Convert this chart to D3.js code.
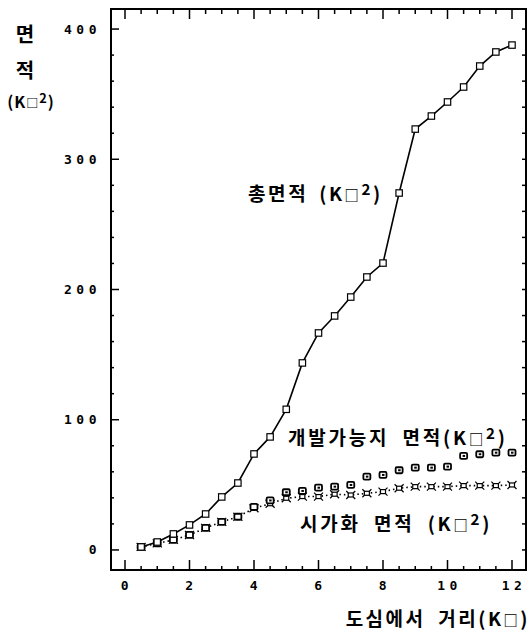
<!DOCTYPE html>
<html><head><meta charset="utf-8">
<script src="https://cdn.jsdelivr.net/npm/d3@7"></script>
<style>
html,body{margin:0;padding:0;background:#fff;}
svg{display:block;}
</style></head>
<body>
<svg id="c" width="530" height="632"></svg>
<script>
// ---- data ----
const distance = [0.5,1,1.5,2,2.5,3,3.5,4,4.5,5,5.5,6,6.5,7,7.5,8,8.5,9,9.5,10,10.5,11,11.5,12];
const totalArea = [2.3,6.1,12.3,19.2,27.6,40.7,51.4,73.7,86.8,108,143.6,166.6,179.7,194.2,209.6,220.3,274.1,323.2,333.2,344,355.5,371.6,382.4,387.7];
const developableArea = [2.3,5.0,7.7,11.5,16.9,21.5,25.5,33.0,38.0,44.3,45.3,47.8,48.6,49.9,56.3,57.6,61.2,63.2,63.2,64.0,72.2,73.5,74.7,74.7];
const urbanArea = [2.3,5.0,7.7,11.5,16.9,21.5,25.5,32.0,35.5,39.7,41.0,41.0,42.8,42.2,43.5,44.8,47.4,48.6,48.6,48.6,49.4,49.4,49.4,49.9];
const xTickLabels = [0,2,4,6,8,10,12];
const yTickLabels = [0,100,200,300,400];
const labelTotal = "총면적 ";
const labelDev = "개발가능지 면적";
const labelUrban = "시가화 면적 ";
const xTitle = "도심에서 거리";
const yTitleChars = ["면","적"];

// ---- layout ----
const L = 111, R = 526, T = 9, B = 570;
const x = d3.scaleLinear().domain([-0.434, 12.434]).range([L, R]);
const y = d3.scaleLinear().domain([-15.4, 415.4]).range([B, T]);
const svg = d3.select("#c");
const KR = "'Noto Sans CJK KR', 'Noto Sans', sans-serif";
const NUM = "'DejaVu Sans Mono', monospace";

// frame
svg.append("rect").attr("x", L).attr("y", T).attr("width", R - L).attr("height", B - T)
  .attr("fill", "none").attr("stroke", "#000").attr("stroke-width", 2);

// x ticks (every 0.5, major every 2)
const xt = d3.range(0, 12.01, 0.5);
const tickG = svg.append("g").attr("stroke", "#000").attr("stroke-width", 1.5);
xt.forEach(v => {
  const major = Math.abs(v % 2) < 1e-6;
  const len = major ? 10 : 4;
  tickG.append("line").attr("x1", x(v)).attr("x2", x(v)).attr("y1", B).attr("y2", B - len);
  tickG.append("line").attr("x1", x(v)).attr("x2", x(v)).attr("y1", T).attr("y2", T + (major ? 10 : 5));
});
// y ticks (every 20, major every 100)
const yt = d3.range(0, 401, 20);
yt.forEach(v => {
  const major = v % 100 === 0;
  tickG.append("line").attr("x1", L).attr("x2", L + (major ? 8 : 3)).attr("y1", y(v)).attr("y2", y(v));
  tickG.append("line").attr("x1", R).attr("x2", R - 4).attr("y1", y(v)).attr("y2", y(v));
});

// tick labels
svg.append("g").selectAll("text").data(xTickLabels).join("text")
  .attr("x", d => x(d) + 2).attr("y", 590)
  .attr("text-anchor", "middle")
  .attr("font-family", NUM).attr("font-weight", "bold").attr("font-size", 13)
  .attr("letter-spacing", 4.5)
  .text(d => d);
svg.append("g").selectAll("text").data(yTickLabels).join("text")
  .attr("x", 101).attr("y", d => y(d) + 4.5)
  .attr("text-anchor", "end")
  .attr("font-family", NUM).attr("font-weight", "bold").attr("font-size", 13)
  .attr("letter-spacing", 4.5)
  .text(d => d);

// lines
const lineTotal = d3.line().x((d, i) => x(distance[i])).y(d => y(d));
svg.append("path").datum(totalArea).attr("d", lineTotal)
  .attr("fill", "none").attr("stroke", "#000").attr("stroke-width", 1.6);
svg.append("path").datum(urbanArea).attr("d", lineTotal)
  .attr("fill", "none").attr("stroke", "#000").attr("stroke-width", 1.6)
  .attr("stroke-dasharray", "1.5,3");

// markers: urban (x-like)
const ug = svg.append("g");
urbanArea.forEach((v, i) => {
  const cx = x(distance[i]), cy = y(v);
  ug.append("rect").attr("x", cx - 2.5).attr("y", cy - 2).attr("width", 5).attr("height", 4)
    .attr("fill", "#fff").attr("stroke", "#000").attr("stroke-width", 1.2);
  ug.append("path").attr("d", `M${cx-4.5},${cy-4}L${cx-2.5},${cy-2}M${cx+4.5},${cy-4}L${cx+2.5},${cy-2}M${cx-4.5},${cy+4}L${cx-2.5},${cy+2}M${cx+4.5},${cy+4}L${cx+2.5},${cy+2}`)
    .attr("stroke", "#000").attr("stroke-width", 1.2);
});
// markers: developable (bold rounded square)
const dg = svg.append("g");
developableArea.forEach((v, i) => {
  const cx = x(distance[i]), cy = y(v);
  dg.append("rect").attr("x", cx - 3.5).attr("y", cy - 3).attr("width", 7).attr("height", 6).attr("rx", 1.2)
    .attr("fill", "#fff").attr("stroke", "#000").attr("stroke-width", 1.8);
  if (distance[i] >= 4.5) dg.append("rect").attr("x", cx - 1).attr("y", cy - 1).attr("width", 2.5).attr("height", 2)
    .attr("fill", "#000");
});
// markers: total (open square)
const tg = svg.append("g");
totalArea.forEach((v, i) => {
  const cx = x(distance[i]), cy = y(v);
  tg.append("rect").attr("x", cx - 3.2).attr("y", cy - 3.2).attr("width", 6.4).attr("height", 6.4)
    .attr("fill", "#fff").attr("stroke", "#000").attr("stroke-width", 1.2);
});

// series labels
function unitLabel(sel, base, sq, size) {
  sel.append("tspan").text(base);
  sel.append("tspan").text("(K");
  sel.append("tspan").attr("font-size", size * 0.75).text("□");
  if (sq) sel.append("tspan").attr("font-size", size * 0.8).attr("dy", -size * 0.3).text("2");
  sel.append("tspan").attr("dy", sq ? size * 0.3 : 0).text(")");
}
function kText(px, py, size, anchor, ls, ws) {
  return svg.append("text").attr("x", px).attr("y", py).attr("font-family", KR)
    .attr("font-weight", "bold").attr("font-size", size).attr("text-anchor", anchor || "start")
    .attr("letter-spacing", ls || 0).attr("word-spacing", ws || 0);
}
unitLabel(kText(248, 201, 19, "start", 2.6, 4), labelTotal, true, 19);
unitLabel(kText(288, 445, 19, "start", 2.8, 6), labelDev, true, 19);
unitLabel(kText(300, 531, 19, "start", 2.8, 6), labelUrban, true, 19);
unitLabel(kText(530, 626, 19, "end", 2.5, 6), xTitle, false, 19);

// y title
kText(25, 42, 20, "middle").text(yTitleChars[0]);
kText(25, 78, 20, "middle").text(yTitleChars[1]);
unitLabel(kText(31, 108, 16, "middle", 1), "", true, 16);
</script>
</body></html>
